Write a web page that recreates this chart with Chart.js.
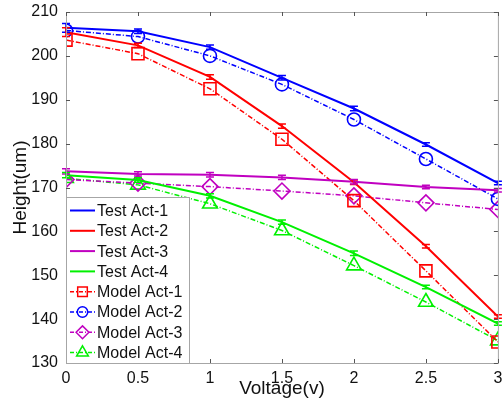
<!DOCTYPE html>
<html>
<head>
<meta charset="utf-8">
<script src="https://cdn.jsdelivr.net/npm/chart.js@4"></script>
<style>
  html, body { margin: 0; padding: 0; background: #fff; overflow: hidden; }
  #wrap { width: 502px; height: 403px; overflow: hidden; }
  #c { display: block; }
</style>
</head>
<body>
<div id="wrap"><canvas id="c" width="508" height="403"></canvas></div>
<script>
const voltage = [0, 0.5, 1, 1.5, 2, 2.5, 3];

const testAct1 = [206.4, 205.6, 202.0, 195.0, 188.0, 179.8, 171.0];
const testAct2 = [205.4, 202.4, 195.2, 184.0, 171.2, 156.6, 140.6];
const testAct3 = [173.7, 173.1, 172.9, 172.3, 171.3, 170.1, 169.4];
const testAct4 = [172.8, 171.7, 168.1, 162.1, 155.0, 147.3, 139.0];

const testErr1 = [1.0, 0.5, 0.5, 0.5, 0.5, 0.4, 0.4];
const testErr2 = [1.0, 0.5, 0.5, 0.5, 0.5, 0.4, 0.4];
const testErr3 = [0.6, 0.5, 0.5, 0.5, 0.5, 0.4, 0.4];
const testErr4 = [0.6, 0.5, 0.5, 0.5, 0.5, 0.4, 0.4];

const modelAct1 = [203.6, 200.5, 192.5, 181.0, 167.0, 151.0, 134.8];
const modelAct2 = [205.8, 204.4, 200.0, 193.5, 185.5, 176.5, 167.4];
const modelAct3 = [171.8, 171.0, 170.2, 169.2, 168.1, 166.5, 165.0];
const modelAct4 = [172.1, 170.6, 166.3, 160.2, 152.2, 143.9, 135.1];

const blue = '#0000ff', red = '#ff0000', mag = '#c000c0', green = '#00f000';
const dashStyle = [5, 2, 1, 2];

function pts(ys) { return voltage.map((x, i) => ({ x: x, y: ys[i] })); }

function testSet(label, ys, err, color) {
  return {
    label, data: pts(ys), err,
    borderColor: color, backgroundColor: color,
    borderWidth: 2, pointRadius: 0, fill: false, tension: 0
  };
}
function modelSet(label, ys, color, style, r) {
  return {
    label, data: pts(ys),
    borderColor: color, backgroundColor: 'rgba(0,0,0,0)',
    borderWidth: 1.5, borderDash: dashStyle,
    pointStyle: style, pointRadius: r, pointBorderWidth: 1.6,
    pointBorderColor: color, pointBackgroundColor: 'rgba(0,0,0,0)',
    fill: false, tension: 0
  };
}

const datasets = [
  testSet('Test Act-1', testAct1, testErr1, blue),
  testSet('Test Act-2', testAct2, testErr2, red),
  testSet('Test Act-3', testAct3, testErr3, mag),
  testSet('Test Act-4', testAct4, testErr4, green),
  modelSet('Model Act-1', modelAct1, red, 'rect', 8.5),
  modelSet('Model Act-2', modelAct2, blue, 'circle', 6.5),
  modelSet('Model Act-3', modelAct3, mag, 'rectRot', 8),
  modelSet('Model Act-4', modelAct4, green, 'triangle', 8.5)
];

// error bars on test curves
const errorBars = {
  id: 'errorBars',
  afterDatasetsDraw(chart) {
    const ctx = chart.ctx, ys = chart.scales.y;
    chart.data.datasets.forEach((ds, i) => {
      if (!ds.err) return;
      const meta = chart.getDatasetMeta(i);
      ctx.save();
      ctx.strokeStyle = ds.borderColor;
      ctx.lineWidth = 1.5;
      meta.data.forEach((p, j) => {
        const v = ds.data[j].y, e = ds.err[j];
        const t = ys.getPixelForValue(v + e), b = ys.getPixelForValue(v - e);
        ctx.beginPath();
        ctx.moveTo(p.x, t); ctx.lineTo(p.x, b);
        ctx.moveTo(p.x - 4, t); ctx.lineTo(p.x + 4, t);
        ctx.moveTo(p.x - 4, b); ctx.lineTo(p.x + 4, b);
        ctx.stroke();
      });
      ctx.restore();
    });
  }
};

// box, inward ticks and legend
const frame = {
  id: 'frame',
  afterDraw(chart) {
    const ctx = chart.ctx, a = chart.chartArea;
    const xs = chart.scales.x, ys = chart.scales.y;
    ctx.save();
    ctx.strokeStyle = '#a6a6a6';
    ctx.lineWidth = 1;
    ctx.strokeRect(a.left + 0.5, a.top + 0.5, a.right - a.left, a.bottom - a.top);
    ctx.strokeStyle = '#555';
    ctx.beginPath();
    xs.ticks.forEach(t => {
      const x = Math.round(xs.getPixelForValue(t.value)) + 0.5;
      ctx.moveTo(x, a.bottom); ctx.lineTo(x, a.bottom - 4);
      ctx.moveTo(x, a.top); ctx.lineTo(x, a.top + 4);
    });
    ys.ticks.forEach(t => {
      const y = Math.round(ys.getPixelForValue(t.value)) + 0.5;
      ctx.moveTo(a.left, y); ctx.lineTo(a.left + 4, y);
      ctx.moveTo(a.right, y); ctx.lineTo(a.right - 4, y);
    });
    ctx.stroke();

    // legend
    const lx = a.left, ly = 197, lw = 123, lh = a.bottom - ly;
    ctx.fillStyle = '#fff';
    ctx.fillRect(lx, ly, lw, lh);
    ctx.strokeStyle = '#a6a6a6';
    ctx.strokeRect(lx + 0.5, ly + 0.5, lw, lh);
    ctx.font = '16px "Liberation Sans", Arial, sans-serif';
    ctx.textBaseline = 'middle';
    chart.data.datasets.forEach((ds, i) => {
      const y = 210.5 + i * 20.3;
      ctx.strokeStyle = ds.borderColor;
      ctx.lineWidth = ds.err ? 2 : 1.5;
      ctx.setLineDash(ds.err ? [] : [4, 2, 1, 2]);
      ctx.beginPath();
      ctx.moveTo(lx + 4, y); ctx.lineTo(lx + 29, y);
      ctx.stroke();
      ctx.setLineDash([]);
      if (!ds.err) {
        ctx.lineWidth = 1.5;
        ctx.fillStyle = 'rgba(0,0,0,0)';
        Chart.helpers.drawPoint(ctx, {
          pointStyle: ds.pointStyle, radius: ds.pointRadius * 0.8,
          borderWidth: 1.5, rotation: 0
        }, lx + 16.5, y);
      }
      ctx.fillStyle = '#111';
      ctx.fillText(ds.label, lx + 31, y + 1);
    });
    ctx.restore();
  }
};

const tickFont = { family: '"Liberation Sans", Arial, sans-serif', size: 16 };
const titleFont = { family: '"Liberation Sans", Arial, sans-serif', size: 19 };

new Chart(document.getElementById('c'), {
  type: 'line',
  data: { datasets },
  options: {
    responsive: false,
    animation: false,
    layout: { padding: { top: 12, right: 4, left: 0, bottom: 0 } },
    plugins: { legend: { display: false }, tooltip: { enabled: false } },
    scales: {
      x: {
        type: 'linear', min: 0, max: 3,
        ticks: { stepSize: 0.5, font: tickFont, color: '#111', padding: 6, maxRotation: 0,
                 callback: v => String(v) },
        grid: { display: false, drawTicks: false }, border: { display: false },
        title: { display: true, text: 'Voltage(v)', font: titleFont, color: '#111', padding: { top: 0, bottom: 3 } },
        afterFit(s) { s.height = 40; s.paddingLeft = 0; s.paddingRight = 0; }
      },
      y: {
        min: 130, max: 210,
        ticks: { stepSize: 10, font: tickFont, color: '#111', padding: 8 },
        grid: { display: false, drawTicks: false }, border: { display: false },
        title: { display: true, text: 'Height(um)', font: titleFont, color: '#111', padding: { top: 9, bottom: 0 } },
        afterFit(s) { s.width = 66; s.paddingTop = 0; s.paddingBottom = 0; }
      }
    }
  },
  plugins: [errorBars, frame]
});
</script>
</body>
</html>
